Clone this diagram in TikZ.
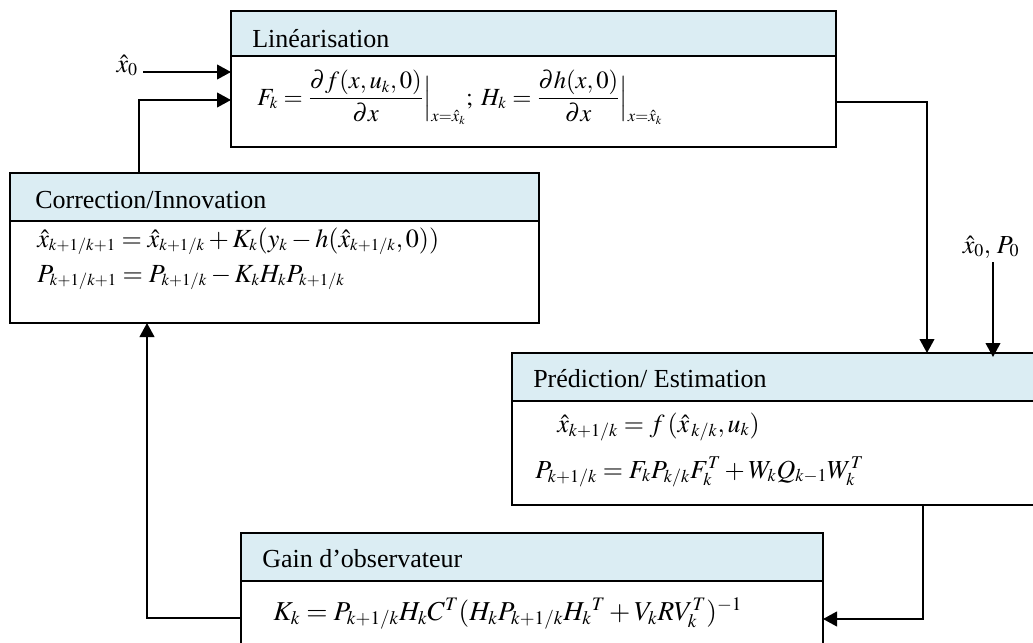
\documentclass[tikz,border=0pt]{standalone}
\usepackage{mathptmx}
\usepackage[no-math]{fontspec}
\setmainfont{Liberation Serif}
\usetikzlibrary{arrows.meta}
\DeclareMathSizes{18.5}{18.5}{12.5}{9}
\DeclareMathSizes{19.5}{19.5}{13.5}{10}
\DeclareMathSizes{19.6}{19.6}{12.5}{9}
\DeclareMathSizes{20.5}{20.5}{14.3}{10.5}
\definecolor{hdrblue}{RGB}{219,237,243}
\begin{document}
\begin{tikzpicture}[x=0.75pt,y=-0.75pt,
  box/.style={draw, line width=1.5pt, anchor=north west, inner sep=0pt, outer sep=0pt},
  hdr/.style={box, fill=hdrblue, minimum height=36pt},
  body/.style={box, fill=white},
  conn/.style={line width=1.5pt, -{Triangle[length=10.5pt,width=11pt]}},
  title/.style={anchor=base west, inner sep=0pt, font=\fontsize{19.5}{23}\selectfont},
  eq/.style={anchor=base west, inner sep=0pt, font=\fontsize{19.5}{23}\selectfont},
  eqlin/.style={eq, font=\fontsize{18.5}{22}\selectfont},
  eqcorr/.style={eq, font=\fontsize{19.6}{23}\selectfont},
  eqgain/.style={eq, font=\fontsize{20.5}{24}\selectfont},
]
\useasboundingbox (0,0) rectangle (1033,643);

% Linearisation
\node[body, minimum width=453.75pt, minimum height=68.25pt] (linbody) at (231,56) {};
\node[hdr, minimum width=453.75pt, minimum height=33.75pt] (linhdr) at (231,11) {};
\node[title] (lintxt) at (252,47) {Linéarisation};
\node[eqlin] (lineq) at (257,105) {$\displaystyle F_k = \frac{\partial f(x,u_k,0)}{\partial x}\Big|_{x=\hat{x}_k} ;\; H_k = \frac{\partial h(x,0)}{\partial x}\Big|_{x=\hat{x}_k}$};

% Correction
\node[body, minimum width=396.75pt, minimum height=76.5pt] (corrbody) at (10,221) {};
\node[hdr, minimum width=396.75pt] (corrhdr) at (10,173) {};
\node[title] (corrtxt) at (35,208) {Correction/Innovation};
\node[eqcorr] (correq1) at (37,247) {$\hat{x}_{k+1/k+1} = \hat{x}_{k+1/k} + K_k(y_k - h(\hat{x}_{k+1/k},0))$};
\node[eqcorr] (correq2) at (37,282) {$P_{k+1/k+1} = P_{k+1/k} - K_k H_k P_{k+1/k}$};

% Prediction
\node[body, minimum width=397.5pt, minimum height=78pt] (predbody) at (512,401) {};
\node[hdr, minimum width=397.5pt] (predhdr) at (512,353) {};
\node[title] (predtxt) at (533,387) {Prédiction/ Estimation};
\node[eq] (predeq1) at (557,432) {$\hat{x}_{k+1/k} = f\,(\hat{x}_{\,k/k},u_k)$};
\node[eq] (predeq2) at (535,478) {$P_{k+1/k} = F_k P_{k/k} F_k^T + W_k Q_{k-1} W_k^T$};

% Gain
\node[body, minimum width=436.5pt, minimum height=60pt] (gainbody) at (241,581) {};
\node[hdr, minimum width=436.5pt] (gainhdr) at (241,533) {};
\node[title] (gaintxt) at (262,567) {Gain d’observateur};
\node[eqgain] (gaineq) at (273,620) {$K_k = P_{k+1/k} H_k C^T (H_k P_{k+1/k} H_k{}^T + V_k R V_k^T)^{-1}$};

% Labels
\node[eq, anchor=base east] (x0) at (138,72) {$\hat{x}_0$};
\node[eq, anchor=base] (x0p0) at (991,253) {$\hat{x}_0,\, P_0$};

% Connectors
\coordinate (a1) at (139,100);
\coordinate (a2) at (927,102);
\coordinate (a4) at (923,619);
\coordinate (a5) at (147,618);
\draw[conn] ([xshift=4pt]x0.base east) -- (x0.base east -| linbody.west);
\draw[conn] (a1 |- corrhdr.north) -- (a1) -- (a1 -| linbody.west);
\draw[conn] (a2 -| linbody.east) -- (a2) -- (a2 |- predhdr.north);
\draw[conn] ([xshift=1.5pt,yshift=-3pt]x0p0.south) -- ([xshift=1.5pt,yshift=-3pt]x0p0.south |- predhdr.north);
\draw[conn] (a4 |- predbody.south) -- (a4) -- (a4 -| gainbody.east);
\draw[conn] (a5 -| gainbody.west) -- (a5) -- (a5 |- corrbody.south);
\end{tikzpicture}
\end{document}
